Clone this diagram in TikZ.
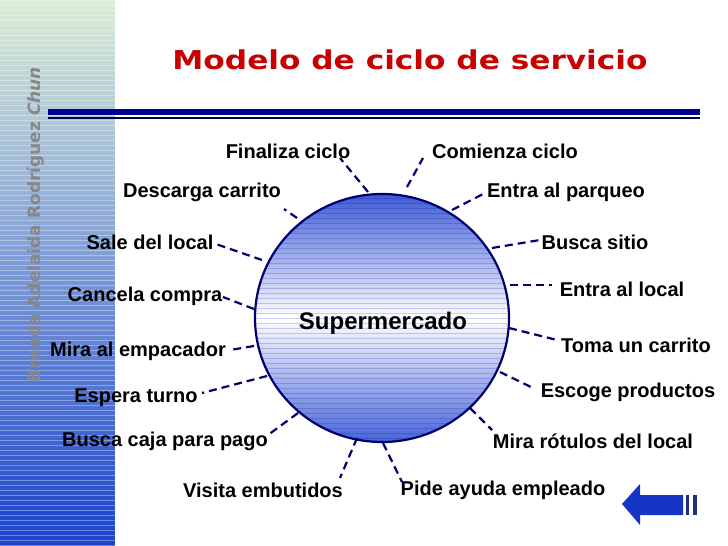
\documentclass[tikz,border=0pt]{standalone}
\usepackage{fontspec}
\setmainfont{Liberation Sans}
\newfontfamily\titlefont{DejaVu Sans}
\newfontfamily\authorfont{DejaVu Sans}
\usetikzlibrary{shapes.geometric}
\definecolor{navy}{RGB}{0,0,110}
\definecolor{rulethick}{RGB}{0,0,144}
\definecolor{rulethin}{RGB}{0,0,70}
\definecolor{ptop}{RGB}{218,236,214}
\definecolor{pmid}{RGB}{130,160,215}
\definecolor{pbot}{RGB}{25,65,205}
\definecolor{titlered}{RGB}{200,0,0}
\definecolor{authorgray}{RGB}{135,135,135}
\definecolor{ballblue}{RGB}{62,92,212}
\definecolor{arrowblue}{RGB}{21,53,197}
\definecolor{bardark}{RGB}{32,48,128}
\tikzset{
  lbl/.style={font=\bfseries\fontsize{20}{24}\selectfont, inner sep=0pt},
  conn/.style={draw=navy, line width=2.2pt, dash pattern=on 8pt off 5pt},
}
\begin{document}
\begin{tikzpicture}[x=1pt,y=-1pt]
\useasboundingbox (0,0) rectangle (728,546);
\fill[white] (0,0) rectangle (728,546);
% left panel
\foreach \i in {0,...,109}{
  \ifnum\i<50
    \pgfmathtruncatemacro\p{100*\i/50}
    \fill[pmid!\p!ptop] (0,\i*5) rectangle (115,\i*5+5.4);
  \else
    \pgfmathtruncatemacro\p{100*(\i-50)/59}
    \fill[pbot!\p!pmid] (0,\i*5) rectangle (115,\i*5+5.4);
  \fi
  \draw[white,opacity=.35,line width=.7pt] (0,\i*5+0.5) -- (115,\i*5+0.5);
}
% title rule
\fill[rulethick] (48,109) rectangle (700,115);
\fill[rulethin] (48,117) rectangle (700,118.5);
% title
\node[font=\titlefont\bfseries\fontsize{26}{30}\selectfont, text=titlered, xscale=1.2] (title) at (410,60) {Modelo de ciclo de servicio};
% author
\node[rotate=90, text=authorgray, font=\authorfont\bfseries\fontsize{17}{19}\selectfont] (author) at (36,225) {Brenda Adelaida Rodríguez \itshape Chun};
% central ball
\node[ellipse, minimum width=254pt, minimum height=248pt, draw=navy, line width=2.2pt,
      top color=ballblue, bottom color=ballblue!95!white, middle color=white,
      path picture={\foreach \k in {-26,...,26}{\draw[blue!70!black,opacity=.18,line width=.6pt] ([xshift=-140pt,yshift=\k*5pt]path picture bounding box.center) -- ++(280pt,0);}}]
      (sm) at (382,318) {};
\node[font=\bfseries\fontsize{24}{28}\selectfont, inner sep=0pt] (smt) at (383,323) {Supermercado};
% labels
\node[lbl] (l1) at (288,151) {Finaliza ciclo};
\node[lbl] (l2) at (505,151) {Comienza ciclo};
\node[lbl] (l3) at (202,192) {Descarga carrito};
\node[lbl] (l4) at (566,192) {Entra al parqueo};
\node[lbl] (l5) at (150,242) {Sale del local};
\node[lbl] (l6) at (595,242) {Busca sitio};
\node[lbl] (l7) at (145,296) {Cancela compra};
\node[lbl] (l8) at (622,289) {Entra al local};
\node[lbl] (l9) at (138,351) {Mira al empacador};
\node[lbl] (l10) at (636,345) {Toma un carrito};
\node[lbl] (l11) at (136,398) {Espera turno};
\node[lbl] (l12) at (628,392) {Escoge productos};
\node[lbl] (l13) at (165,441) {Busca caja para pago};
\node[lbl] (l14) at (593,441) {Mira rótulos del local};
\node[lbl] (l15) at (263,490) {Visita embutidos};
\node[lbl] (l16) at (503,490) {Pide ayuda empleado};
% connector end points
\coordinate (s1) at (368,192);  \coordinate (e1) at (340,158);
\coordinate (s2) at (407,187);  \coordinate (e2) at (423,158);
\coordinate (s3) at (297,218);  \coordinate (e3) at (284,209);
\coordinate (s4) at (452,210);  \coordinate (e4) at (485,193);
\coordinate (s5) at (262,260);  \coordinate (e5) at (213,243);
\coordinate (s6) at (492,248);  \coordinate (e6) at (540,240);
\coordinate (s7) at (254,309);  \coordinate (e7) at (223,297);
\coordinate (s8) at (510,285);  \coordinate (e8) at (552,285);
\coordinate (s9) at (254,346);  \coordinate (e9) at (230,350);
\coordinate (s10) at (509,328); \coordinate (e10) at (557,340);
\coordinate (s11) at (267,376); \coordinate (e11) at (202,393);
\coordinate (s12) at (500,372); \coordinate (e12) at (533,388);
\coordinate (s13) at (298,413); \coordinate (e13) at (268,435);
\coordinate (s14) at (470,408); \coordinate (e14) at (492,430);
\coordinate (s15) at (357,438); \coordinate (e15) at (340,478);
\coordinate (s16) at (383,443); \coordinate (e16) at (402,482);
\foreach \n in {1,...,16}{\draw[conn] (s\n) -- (e\n);}
% back arrow
\fill[arrowblue] (622,504) -- (640,484) -- (640,495) -- (683,495) -- (683,515) -- (640,515) -- (640,525) -- cycle;
\fill[bardark] (686,495) rectangle (689,515);
\fill[bardark] (693,495) rectangle (697,515);
\end{tikzpicture}
\end{document}
